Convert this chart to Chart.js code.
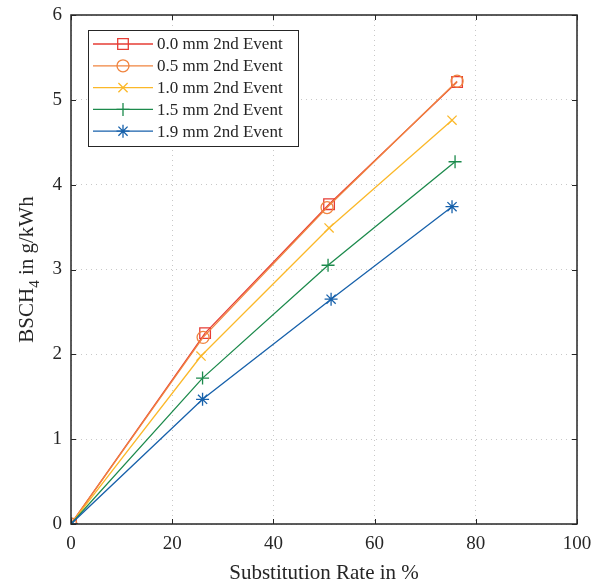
<!DOCTYPE html>
<html>
<head>
<meta charset="utf-8">
<script src="https://cdn.jsdelivr.net/npm/chart.js@4/dist/chart.umd.min.js"></script>
<style>
html,body{margin:0;padding:0;background:#fff;}
#wrap{width:605px;height:582px;position:relative;}
</style>
</head>
<body>
<div id="wrap"><canvas id="c" width="605" height="582"></canvas></div>
<script>
const seriesLabels = ['0.0 mm 2nd Event','0.5 mm 2nd Event','1.0 mm 2nd Event','1.5 mm 2nd Event','1.9 mm 2nd Event'];
const x00 = [0, 26.5, 51.0, 76.3];
const y00 = [0, 2.25, 3.77, 5.21];
const x05 = [0, 26.1, 50.6, 76.3];
const y05 = [0, 2.20, 3.73, 5.22];
const x10 = [0, 25.7, 51.0, 75.3];
const y10 = [0, 1.98, 3.49, 4.76];
const x15 = [0, 26.0, 50.8, 75.9];
const y15 = [0, 1.72, 3.05, 4.27];
const x19 = [0, 26.0, 51.4, 75.3];
const y19 = [0, 1.47, 2.65, 3.74];
const xTicks = [0, 20, 40, 60, 80, 100];
const yTicks = [0, 1, 2, 3, 4, 5, 6];

const colors = ['#e63d35', '#f0843f', '#fbb829', '#1c8a4c', '#1761ab'];
const styles = ['rect', 'circle', 'crossRot', 'cross', 'star'];
const radii = [7.5, 6, 6.5, 6.5, 6.5];
const xs = [x00, x05, x10, x15, x19];
const ys = [y00, y05, y10, y15, y19];

const FONT = '"Liberation Serif", "DejaVu Serif", serif';

const datasets = seriesLabels.map((lab, i) => ({
  label: lab,
  data: xs[i].map((v, j) => ({x: v, y: ys[i][j]})),
  showLine: true,
  borderColor: colors[i],
  backgroundColor: 'rgba(0,0,0,0)',
  borderWidth: 1.3,
  pointStyle: styles[i],
  pointRadius: radii[i],
  pointBorderWidth: 1.3,
  pointBorderColor: colors[i],
  pointBackgroundColor: 'rgba(0,0,0,0)',
  order: 5 - i
}));

function drawMarker(ctx, style, r, x, y, color) {
  ctx.save();
  ctx.strokeStyle = color;
  ctx.lineWidth = 1.3;
  ctx.beginPath();
  if (style === 'rect') {
    const s = Math.SQRT1_2 * r;
    ctx.rect(x - s, y - s, 2 * s, 2 * s);
  } else if (style === 'circle') {
    ctx.arc(x, y, r, 0, Math.PI * 2);
  } else if (style === 'crossRot') {
    const s = Math.SQRT1_2 * r;
    ctx.moveTo(x - s, y - s); ctx.lineTo(x + s, y + s);
    ctx.moveTo(x - s, y + s); ctx.lineTo(x + s, y - s);
  } else if (style === 'cross') {
    ctx.moveTo(x - r, y); ctx.lineTo(x + r, y);
    ctx.moveTo(x, y - r); ctx.lineTo(x, y + r);
  } else if (style === 'star') {
    const s = Math.SQRT1_2 * r;
    ctx.moveTo(x - r, y); ctx.lineTo(x + r, y);
    ctx.moveTo(x, y - r); ctx.lineTo(x, y + r);
    ctx.moveTo(x - s, y - s); ctx.lineTo(x + s, y + s);
    ctx.moveTo(x - s, y + s); ctx.lineTo(x + s, y - s);
  }
  ctx.stroke();
  ctx.restore();
}

const framePlugin = {
  id: 'frame',
  afterDatasetsDraw(chart) {
    const ctx = chart.ctx;
    const a = chart.chartArea;
    const sx = chart.scales.x, sy = chart.scales.y;
    ctx.save();
    ctx.strokeStyle = '#262626';
    ctx.lineWidth = 1.5;
    ctx.strokeRect(a.left, a.top, a.right - a.left, a.bottom - a.top);
    ctx.lineWidth = 1;
    ctx.beginPath();
    const tl = 5;
    xTicks.forEach(v => {
      const px = Math.round(sx.getPixelForValue(v)) + 0.5;
      ctx.moveTo(px, a.bottom); ctx.lineTo(px, a.bottom - tl);
      ctx.moveTo(px, a.top); ctx.lineTo(px, a.top + tl);
    });
    yTicks.forEach(v => {
      const py = Math.round(sy.getPixelForValue(v)) + 0.5;
      ctx.moveTo(a.left, py); ctx.lineTo(a.left + tl, py);
      ctx.moveTo(a.right, py); ctx.lineTo(a.right - tl, py);
    });
    ctx.stroke();

    // legend
    const lx = 88, ly = 30, lw = 210, lh = 116;
    ctx.fillStyle = '#fff';
    ctx.fillRect(lx, ly, lw, lh);
    ctx.strokeStyle = '#262626';
    ctx.lineWidth = 1;
    ctx.strokeRect(lx + 0.5, ly + 0.5, lw, lh);
    ctx.font = '17px ' + FONT;
    ctx.textBaseline = 'middle';
    ctx.textAlign = 'left';
    seriesLabels.forEach((lab, i) => {
      const y = 44 + i * 21.8;
      ctx.strokeStyle = colors[i];
      ctx.lineWidth = 1.3;
      ctx.beginPath();
      ctx.moveTo(93, y); ctx.lineTo(153, y);
      ctx.stroke();
      drawMarker(ctx, styles[i], radii[i], 123, y, colors[i]);
      ctx.fillStyle = '#262626';
      ctx.fillText(lab, 157, y + 1);
    });

    // axis titles
    ctx.fillStyle = '#262626';
    ctx.font = '21px ' + FONT;
    ctx.textAlign = 'center';
    ctx.textBaseline = 'alphabetic';
    ctx.fillText('Substitution Rate in %', (a.left + a.right) / 2, 579);

    ctx.save();
    ctx.translate(33, (a.top + a.bottom) / 2);
    ctx.rotate(-Math.PI / 2);
    const p1 = 'BSCH', p2 = '4', p3 = ' in g/kWh';
    ctx.font = '21px ' + FONT;
    const w1 = ctx.measureText(p1).width;
    const w3 = ctx.measureText(p3).width;
    ctx.font = '15px ' + FONT;
    const w2 = ctx.measureText(p2).width;
    const total = w1 + w2 + w3;
    let cx = -total / 2;
    ctx.textAlign = 'left';
    ctx.font = '21px ' + FONT;
    ctx.fillText(p1, cx, 0); cx += w1;
    ctx.font = '15px ' + FONT;
    ctx.fillText(p2, cx, 6); cx += w2;
    ctx.font = '21px ' + FONT;
    ctx.fillText(p3, cx, 0);
    ctx.restore();
    ctx.restore();
  }
};

new Chart(document.getElementById('c'), {
  type: 'scatter',
  data: { datasets },
  options: {
    responsive: false,
    animation: false,
    devicePixelRatio: 1,
    layout: { padding: { left: 0, right: 28, top: 15, bottom: 0 } },
    plugins: { legend: { display: false }, tooltip: { enabled: false } },
    scales: {
      x: {
        type: 'linear', min: 0, max: 100,
        afterFit(s) { s.height = 58; s.paddingLeft = 0; s.paddingRight = 0; },
        afterBuildTicks(s) { s.ticks = xTicks.map(v => ({value: v})); },
        grid: { color: '#c8c8c8', lineWidth: 1, drawTicks: false },
        border: { display: false, dash: [1, 4] },
        ticks: { color: '#262626', font: { family: FONT, size: 19 }, padding: 9, maxRotation: 0 }
      },
      y: {
        type: 'linear', min: 0, max: 6,
        afterFit(s) { s.width = 71; s.paddingTop = 0; s.paddingBottom = 0; },
        afterBuildTicks(s) { s.ticks = yTicks.map(v => ({value: v})); },
        grid: { color: '#c8c8c8', lineWidth: 1, drawTicks: false },
        border: { display: false, dash: [1, 4] },
        ticks: { color: '#262626', font: { family: FONT, size: 19 }, padding: 9 }
      }
    }
  },
  plugins: [framePlugin]
});
</script>
</body>
</html>
